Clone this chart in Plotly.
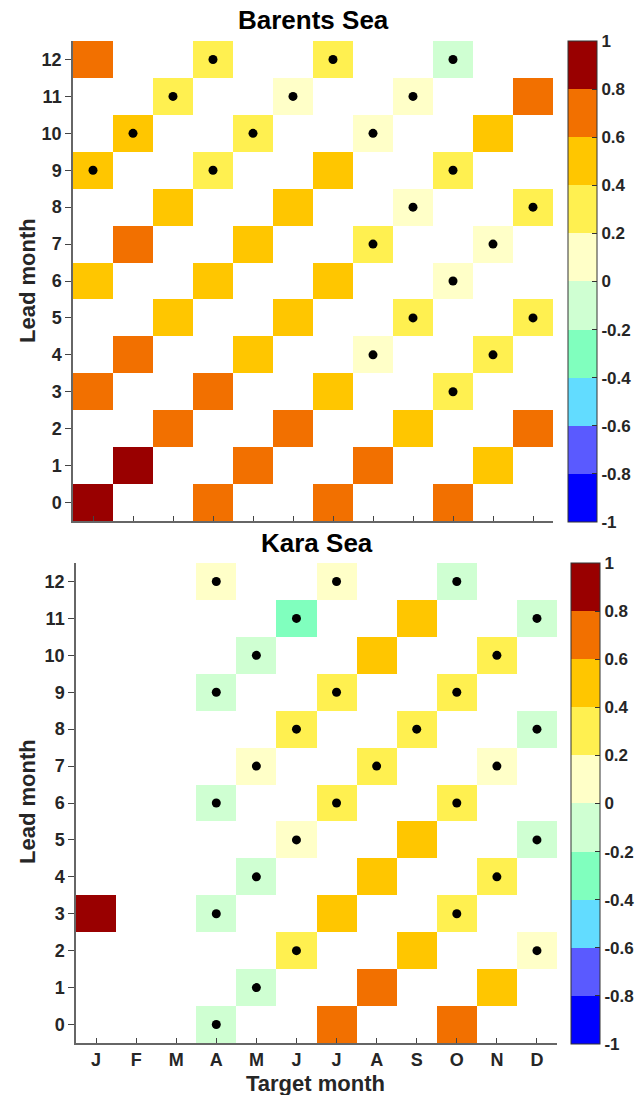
import plotly.graph_objects as go

N = None
months = ["J", "F", "M", "A", "M", "J", "J", "A", "S", "O", "N", "D"]
leads = list(range(13))

# rows listed from lead 12 (top) down to lead 0 (bottom)
barents_z = [
    [0.7, N, N, 0.3, N, N, 0.3, N, N, -0.1, N, N],
    [N, N, 0.3, N, N, 0.1, N, N, 0.1, N, N, 0.7],
    [N, 0.5, N, N, 0.3, N, N, 0.1, N, N, 0.5, N],
    [0.5, N, N, 0.3, N, N, 0.5, N, N, 0.3, N, N],
    [N, N, 0.5, N, N, 0.5, N, N, 0.1, N, N, 0.3],
    [N, 0.7, N, N, 0.5, N, N, 0.3, N, N, 0.1, N],
    [0.5, N, N, 0.5, N, N, 0.5, N, N, 0.1, N, N],
    [N, N, 0.5, N, N, 0.5, N, N, 0.3, N, N, 0.3],
    [N, 0.7, N, N, 0.5, N, N, 0.1, N, N, 0.3, N],
    [0.7, N, N, 0.7, N, N, 0.5, N, N, 0.3, N, N],
    [N, N, 0.7, N, N, 0.7, N, N, 0.5, N, N, 0.7],
    [N, 0.9, N, N, 0.7, N, N, 0.7, N, N, 0.5, N],
    [0.9, N, N, 0.7, N, N, 0.7, N, N, 0.7, N, N],
]
barents_dots = [
    [0, 0, 0, 1, 0, 0, 1, 0, 0, 1, 0, 0],
    [0, 0, 1, 0, 0, 1, 0, 0, 1, 0, 0, 0],
    [0, 1, 0, 0, 1, 0, 0, 1, 0, 0, 0, 0],
    [1, 0, 0, 1, 0, 0, 0, 0, 0, 1, 0, 0],
    [0, 0, 0, 0, 0, 0, 0, 0, 1, 0, 0, 1],
    [0, 0, 0, 0, 0, 0, 0, 1, 0, 0, 1, 0],
    [0, 0, 0, 0, 0, 0, 0, 0, 0, 1, 0, 0],
    [0, 0, 0, 0, 0, 0, 0, 0, 1, 0, 0, 1],
    [0, 0, 0, 0, 0, 0, 0, 1, 0, 0, 1, 0],
    [0, 0, 0, 0, 0, 0, 0, 0, 0, 1, 0, 0],
    [0, 0, 0, 0, 0, 0, 0, 0, 0, 0, 0, 0],
    [0, 0, 0, 0, 0, 0, 0, 0, 0, 0, 0, 0],
    [0, 0, 0, 0, 0, 0, 0, 0, 0, 0, 0, 0],
]
kara_z = [
    [N, N, N, 0.1, N, N, 0.1, N, N, -0.1, N, N],
    [N, N, N, N, N, -0.3, N, N, 0.5, N, N, -0.1],
    [N, N, N, N, -0.1, N, N, 0.5, N, N, 0.3, N],
    [N, N, N, -0.1, N, N, 0.3, N, N, 0.3, N, N],
    [N, N, N, N, N, 0.3, N, N, 0.3, N, N, -0.1],
    [N, N, N, N, 0.1, N, N, 0.3, N, N, 0.1, N],
    [N, N, N, -0.1, N, N, 0.3, N, N, 0.3, N, N],
    [N, N, N, N, N, 0.1, N, N, 0.5, N, N, -0.1],
    [N, N, N, N, -0.1, N, N, 0.5, N, N, 0.3, N],
    [0.9, N, N, -0.1, N, N, 0.5, N, N, 0.3, N, N],
    [N, N, N, N, N, 0.3, N, N, 0.5, N, N, 0.1],
    [N, N, N, N, -0.1, N, N, 0.7, N, N, 0.5, N],
    [N, N, N, -0.1, N, N, 0.7, N, N, 0.7, N, N],
]
kara_dots = [
    [0, 0, 0, 1, 0, 0, 1, 0, 0, 1, 0, 0],
    [0, 0, 0, 0, 0, 1, 0, 0, 0, 0, 0, 1],
    [0, 0, 0, 0, 1, 0, 0, 0, 0, 0, 1, 0],
    [0, 0, 0, 1, 0, 0, 1, 0, 0, 1, 0, 0],
    [0, 0, 0, 0, 0, 1, 0, 0, 1, 0, 0, 1],
    [0, 0, 0, 0, 1, 0, 0, 1, 0, 0, 1, 0],
    [0, 0, 0, 1, 0, 0, 1, 0, 0, 1, 0, 0],
    [0, 0, 0, 0, 0, 1, 0, 0, 0, 0, 0, 1],
    [0, 0, 0, 0, 1, 0, 0, 0, 0, 0, 1, 0],
    [0, 0, 0, 1, 0, 0, 0, 0, 0, 1, 0, 0],
    [0, 0, 0, 0, 0, 1, 0, 0, 0, 0, 0, 1],
    [0, 0, 0, 0, 1, 0, 0, 0, 0, 0, 0, 0],
    [0, 0, 0, 1, 0, 0, 0, 0, 0, 0, 0, 0],
]
cbar_vals = [-1, -0.8, -0.6, -0.4, -0.2, 0, 0.2, 0.4, 0.6, 0.8, 1]
cbar_text = ["-1", "-0.8", "-0.6", "-0.4", "-0.2", "0", "0.2", "0.4", "0.6", "0.8", "1"]
level_colors = ["#0000FF", "#5A5AFF", "#62DCFF", "#80FFBE", "#CFFFD2",
                "#FFFFC8", "#FFF050", "#FFC600", "#F27000", "#990000"]

W, H = 640, 1095
FONT = "Liberation Sans, Arial, sans-serif"
TXT = "#262626"

# discrete colorscale
cs = []
n = len(level_colors)
for i, c in enumerate(level_colors):
    cs.append([i / n, c])
    cs.append([(i + 1) / n, c])

def px_x(p):
    return p / W

def px_y(p):
    return 1 - p / H

panels = [
    dict(name="Barents Sea", z=barents_z, dots=barents_dots,
         x0=73, x1=553, y0=41, y1=521, cbx=567.5, cby0=41, cby1=522,
         title_y=20, lead_y=281, showx=False),
    dict(name="Kara Sea", z=kara_z, dots=kara_dots,
         x0=76, x1=557, y0=563, y1=1043, cbx=570.5, cby0=563, cby1=1043.5,
         title_y=543, lead_y=802, showx=True),
]

fig = go.Figure()
annotations = []
for k, p in enumerate(panels):
    ax = "" if k == 0 else str(k + 1)
    zrows = list(reversed(p["z"]))      # index 0 -> lead 0
    drows = list(reversed(p["dots"]))
    fig.add_trace(go.Heatmap(
        z=zrows, x=list(range(12)), y=leads,
        zmin=-1, zmax=1, colorscale=cs, hoverongaps=False,
        xaxis="x" + ax, yaxis="y" + ax,
        colorbar=dict(
            x=px_x(p["cbx"]), xanchor="left", xref="paper",
            y=px_y(p["cby0"]), yanchor="top", yref="paper",
            len=p["cby1"] - p["cby0"], lenmode="pixels",
            thickness=28.5, thicknessmode="pixels",
            xpad=0, ypad=0,
            outlinecolor="#333333", outlinewidth=1,
            tickvals=cbar_vals, ticktext=cbar_text,
            ticks="inside", ticklen=5, tickcolor="#333333",
            tickfont=dict(family=FONT, size=17, color=TXT, weight="bold"),
        ),
    ))
    dx, dy = [], []
    for li, row in enumerate(drows):
        for mi, v in enumerate(row):
            if v:
                dx.append(mi)
                dy.append(leads[li])
    fig.add_trace(go.Scatter(
        x=dx, y=dy, mode="markers",
        marker=dict(color="black", size=9),
        xaxis="x" + ax, yaxis="y" + ax, showlegend=False, hoverinfo="skip",
    ))
    xa = dict(
        domain=[px_x(p["x0"]), px_x(p["x1"])], range=[-0.5, 11.5],
        anchor="y" + ax, tickvals=list(range(12)), ticktext=months,
        showticklabels=p["showx"], ticks="inside", ticklen=5, tickcolor="#444",
        showline=True, linecolor="#666", linewidth=1.5, showgrid=False,
        zeroline=False, fixedrange=True,
        tickfont=dict(family=FONT, size=18, color=TXT, weight="bold"),
    )
    ya = dict(
        domain=[px_y(p["y1"]), px_y(p["y0"])], range=[-0.5, 12.5],
        anchor="x" + ax, tickvals=leads, ticks="outside", ticklen=6,
        tickcolor="#444", showline=True, linecolor="#666", linewidth=1.5,
        showgrid=False, zeroline=False, fixedrange=True,
        tickfont=dict(family=FONT, size=18, color=TXT, weight="bold"),
    )
    fig.layout["xaxis" + ax] = xa
    fig.layout["yaxis" + ax] = ya
    annotations.append(dict(
        text=p["name"], x=px_x((p["x0"] + p["x1"]) / 2), y=px_y(p["title_y"]),
        xref="paper", yref="paper", xanchor="center", yanchor="middle",
        showarrow=False, font=dict(family=FONT, size=26, color="black", weight="bold"),
    ))
    annotations.append(dict(
        text="Lead month", x=px_x(27), y=px_y(p["lead_y"]),
        xref="paper", yref="paper", xanchor="center", yanchor="middle",
        textangle=-90, showarrow=False,
        font=dict(family=FONT, size=22, color=TXT, weight="bold"),
    ))

annotations.append(dict(
    text="Target month", x=px_x(315), y=px_y(1083),
    xref="paper", yref="paper", xanchor="center", yanchor="middle",
    showarrow=False, font=dict(family=FONT, size=22, color=TXT, weight="bold"),
))

fig.update_layout(
    width=W, height=H, margin=dict(l=0, r=0, t=0, b=0),
    paper_bgcolor="white", plot_bgcolor="white",
    showlegend=False, annotations=annotations,
)

fig.write_html("out.html")
